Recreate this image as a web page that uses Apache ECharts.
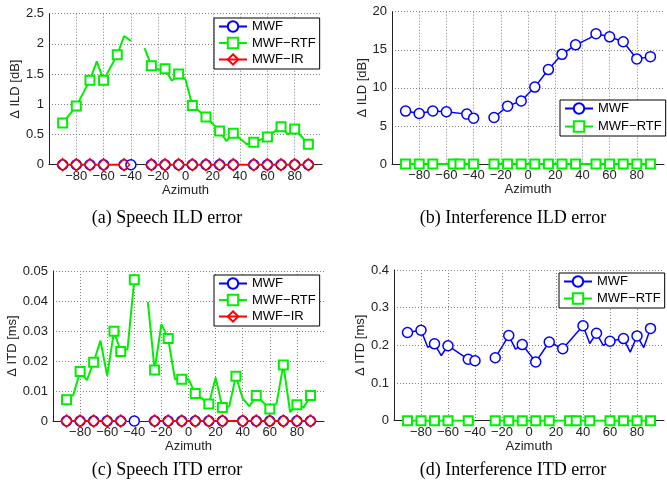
<!DOCTYPE html>
<html>
<head>
<meta charset="utf-8">
<script src="https://cdn.jsdelivr.net/npm/echarts@6/dist/echarts.min.js"></script>
<style>
  html, body { margin: 0; padding: 0; background: #fff; }
  #chart { width: 667px; height: 487px; }
</style>
</head>
<body>
<div id="chart"></div>
<script>
// Azimuth range (degrees) shared by every panel
const azMin = -100;
const azMax = 100;
const azStep = 20;

// Legend / series names
const nameMwf = 'MWF';
const nameRtf = 'MWF\u2212RTF';
const nameIr = 'MWF\u2212IR';

// (a) Speech ILD error [dB]; null marks a break in the curve
const ildSpeechRtfAz  = [-90, -80, -70, -65, -60, -50, -45, -40, null, -30, -25, -20, -15, -10, -5, 0, 5, 15, 25, 30, 35, 45, 50, 60, 70, 75, 80, 90];
const ildSpeechRtfVal = [0.69, 0.97, 1.40, 1.71, 1.40, 1.82, 2.13, 2.05, null, 1.93, 1.64, 1.57, 1.59, 1.39, 1.50, 1.41, 0.98, 0.79, 0.56, 0.39, 0.52, 0.34, 0.37, 0.46, 0.63, 0.50, 0.59, 0.34];
const ildSpeechRtfMarks = [-90, -80, -70, -60, -50, -25, -15, -5, 5, 15, 25, 35, 50, 60, 70, 80, 90];
const ildSpeechMwfAz  = [-90, -80, -70, -60, -45, null, -40, null, -25, -15, -5, 5, 15, 25, 35, 50, 60, 70, 80, 90];
const ildSpeechMwfVal = [0, 0, 0, 0, 0, null, 0, null, 0, 0, 0, 0, 0, 0, 0, 0, 0, 0, 0, 0];
const ildSpeechIrAz   = [-90, -80, -70, -60, -45, null, -25, -15, -5, 5, 15, 25, 35, 50, 60, 70, 80, 90];
const ildSpeechIrVal  = [0, 0, 0, 0, 0, null, 0, 0, 0, 0, 0, 0, 0, 0, 0, 0, 0, 0];

// (b) Interference ILD error [dB]
const ildNoiseMwfAz  = [-90, -80, -70, -60, -45, -40, null, -25, -15, -5, 5, 15, 25, 35, 45, 50, 60, 70, 80, 90];
const ildNoiseMwfVal = [6.95, 6.63, 6.96, 6.86, 6.55, 6.02, null, 6.10, 7.60, 8.28, 10.1, 12.4, 14.4, 15.65, 16.5, 17.1, 16.7, 16.05, 13.8, 14.1];
const ildNoiseMwfMarks = [-90, -80, -70, -60, -45, -40, -25, -15, -5, 5, 15, 25, 35, 50, 60, 70, 80, 90];
const ildNoiseRtfAz  = [-90, -80, -70, -55, -50, -40, null, -25, -15, -5, 5, 15, 25, 35, 50, 60, 70, 80, 90];
const ildNoiseRtfVal = [0, 0, 0, 0, 0, 0, null, 0, 0, 0, 0, 0, 0, 0, 0, 0, 0, 0, 0];

// (c) Speech ITD error [ms]
const itdSpeechRtfAz  = [-90, -85, -80, -75, -70, -65, -60, -55, -50, -45, -40, null, -30, -25, -20, -15, -10, -5, 0, 5, 15, 20, 25, 30, 35, 40, 45, 50, 60, 65, 70, 75, 80, 85, 90];
const itdSpeechRtfVal = [0.0071, 0.0087, 0.0165, 0.0136, 0.0196, 0.0268, 0.0151, 0.0299, 0.0232, 0.0240, 0.0471, null, 0.0397, 0.0170, 0.0323, 0.0275, 0.0139, 0.0139, 0.0139, 0.0092, 0.0057, 0.0145, 0.0045, 0.0048, 0.0149, 0.0075, 0.0049, 0.0085, 0.0040, 0.0059, 0.0187, 0.0030, 0.0054, 0.0045, 0.0085];
const itdSpeechRtfMarks = [-90, -80, -70, -55, -50, -40, -25, -15, -5, 5, 15, 25, 35, 50, 60, 70, 80, 90];
const itdSpeechMwfAz  = [-90, -80, -70, -60, -50, null, -40, null, -25, -15, -5, 5, 15, 25, 40, 50, 60, 70, 80, 90];
const itdSpeechMwfVal = [0, 0, 0, 0, 0, null, 0, null, 0, 0, 0, 0, 0, 0, 0, 0, 0, 0, 0, 0];
const itdSpeechIrAz   = [-90, -80, -70, -60, -50, null, -25, -15, -5, 5, 15, 25, 40, 50, 60, 70, 80, 90];
const itdSpeechIrVal  = [0, 0, 0, 0, 0, null, 0, 0, 0, 0, 0, 0, 0, 0, 0, 0, 0, 0];

// (d) Interference ITD error [ms]
const itdNoiseMwfAz  = [-90, -80, -75, -70, -65, -60, -45, -40, null, -25, -15, -10, -5, 5, 15, 25, 40, 45, 50, 55, 60, 70, 75, 80, 85, 90];
const itdNoiseMwfVal = [0.234, 0.240, 0.195, 0.204, 0.173, 0.199, 0.163, 0.159, null, 0.167, 0.226, 0.190, 0.202, 0.156, 0.209, 0.191, 0.252, 0.205, 0.232, 0.200, 0.211, 0.218, 0.182, 0.225, 0.194, 0.245];
const itdNoiseMwfMarks = [-90, -80, -70, -60, -45, -40, -25, -15, -5, 5, 15, 25, 40, 50, 60, 70, 80, 90];
const itdNoiseRtfAz  = [-90, -80, -70, -60, -45, -40, null, -25, -15, -5, 5, 15, 30, 35, 45, 60, 70, 80, 90];
const itdNoiseRtfVal = [0, 0, 0, 0, 0, 0, null, 0, 0, 0, 0, 0, 0, 0, 0, 0, 0, 0, 0];
const itdNoiseRtfMarks = [-90, -80, -70, -60, -45, -25, -15, -5, 5, 15, 30, 35, 45, 60, 70, 80, 90];

// Y-axis ranges per panel
const yMax = [2.5, 20, 0.05, 0.4];
const yStep = [0.5, 5, 0.01, 0.1];
const yNames = ['\u0394 ILD [dB]', '\u0394 ILD [dB]', '\u0394 ITD [ms]', '\u0394 ITD [ms]'];
const captions = ['(a) Speech ILD error', '(b) Interference ILD error', '(c) Speech ITD error', '(d) Interference ITD error'];

const sans = 'Liberation Sans, Arial, Helvetica, sans-serif';
const serif = 'Liberation Serif, Times New Roman, serif';

const styles = {};
styles[nameMwf] = { color: '#0000ff', symbol: 'circle', size: 10, lw: 1.5, bw: 1.5, fill: '#ffffff' };
styles[nameRtf] = { color: '#00ee00', symbol: 'rect', size: 9, lw: 2, bw: 2, fill: '#ffffff' };
styles[nameIr]  = { color: '#ff0000', symbol: 'diamond', size: [11, 12], lw: 2, bw: 1.5, fill: 'transparent' };

function curve(name, panel, az, val, marks) {
  const st = styles[name];
  const showAt = marks || az;
  const data = az.map((a, i) => a === null
    ? ['-', '-']
    : { value: [a, val[i]], symbol: showAt.includes(a) ? st.symbol : 'none' });
  return {
    name: name,
    type: 'line',
    xAxisIndex: panel,
    yAxisIndex: panel,
    data: data,
    symbol: st.symbol,
    symbolSize: st.size,
    showSymbol: true,
    connectNulls: false,
    lineStyle: { color: st.color, width: st.lw },
    itemStyle: { color: st.fill, borderColor: st.color, borderWidth: st.bw },
    emphasis: { disabled: true },
    animation: false
  };
}

// Plot rectangles
const grids = [
  { left: 49, top: 13.7, width: 273, height: 151 },
  { left: 392, top: 11.7, width: 274, height: 152.3 },
  { left: 53, top: 271, width: 271, height: 150 },
  { left: 394, top: 270, width: 277, height: 150.7 }
];
const yNameGaps = [27, 23, 30, 25];

const dotted = { color: '#808080', width: 1, type: [1, 2] };

const xAxes = grids.map((g, i) => ({
  type: 'value', gridIndex: i, min: azMin, max: azMax, interval: azStep,
  name: 'Azimuth', nameLocation: 'middle', nameGap: 19,
  nameTextStyle: { fontFamily: sans, fontSize: 13, color: '#222' },
  axisLine: { show: true, onZero: false, lineStyle: { color: '#222', width: 1 } },
  axisTick: { show: false },
  axisLabel: {
    fontFamily: sans, fontSize: 13, color: '#222', margin: 5,
    formatter: v => Math.abs(v) === 100 ? '' : String(v).replace('-', '\u2212')
  },
  splitLine: { show: true, showMinLine: false, showMaxLine: false, lineStyle: dotted }
}));

const yAxes = grids.map((g, i) => ({
  type: 'value', gridIndex: i, min: 0, max: yMax[i], interval: yStep[i],
  name: yNames[i], nameLocation: 'middle', nameGap: yNameGaps[i],
  nameTextStyle: { fontFamily: sans, fontSize: 13, color: '#222' },
  axisLine: { show: true, onZero: false, lineStyle: { color: '#222', width: 1 } },
  axisTick: { show: false },
  axisLabel: { fontFamily: sans, fontSize: 13, color: '#222', margin: 5 },
  splitLine: { show: true, showMinLine: false, showMaxLine: true, lineStyle: dotted }
}));

function legendBox(left, top, names, gap) {
  return {
    left: left, top: top, orient: 'vertical',
    data: names,
    itemWidth: 28, itemHeight: 13, itemGap: gap,
    padding: [2, 4, 3, 4],
    borderColor: '#000', borderWidth: 1, backgroundColor: '#fff',
    textStyle: { fontFamily: sans, fontSize: 13, color: '#000' },
    selectedMode: false
  };
}

const series = [
  curve(nameMwf, 0, ildSpeechMwfAz, ildSpeechMwfVal),
  curve(nameRtf, 0, ildSpeechRtfAz, ildSpeechRtfVal, ildSpeechRtfMarks),
  curve(nameIr, 0, ildSpeechIrAz, ildSpeechIrVal),

  curve(nameMwf, 1, ildNoiseMwfAz, ildNoiseMwfVal, ildNoiseMwfMarks),
  curve(nameRtf, 1, ildNoiseRtfAz, ildNoiseRtfVal),

  curve(nameMwf, 2, itdSpeechMwfAz, itdSpeechMwfVal),
  curve(nameRtf, 2, itdSpeechRtfAz, itdSpeechRtfVal, itdSpeechRtfMarks),
  curve(nameIr, 2, itdSpeechIrAz, itdSpeechIrVal),

  curve(nameMwf, 3, itdNoiseMwfAz, itdNoiseMwfVal, itdNoiseMwfMarks),
  curve(nameRtf, 3, itdNoiseRtfAz, itdNoiseRtfVal, itdNoiseRtfMarks)
];

const captionPos = [[167, 218], [513, 218], [167, 470], [513, 470]];

const chart = echarts.init(document.getElementById('chart'), null, { renderer: 'canvas' });
chart.setOption({
  backgroundColor: '#ffffff',
  animation: false,
  grid: grids,
  xAxis: xAxes,
  yAxis: yAxes,
  legend: [
    legendBox(214, 18, [nameMwf, nameRtf, nameIr], 3.5),
    legendBox(560, 100, [nameMwf, nameRtf], 5),
    legendBox(214, 275, [nameMwf, nameRtf, nameIr], 3.5),
    legendBox(559, 273, [nameMwf, nameRtf], 4)
  ],
  graphic: captions.map((t, i) => ({
    type: 'text', x: captionPos[i][0], y: captionPos[i][1],
    style: { text: t, font: '18px ' + serif, fill: '#000', textAlign: 'center', textVerticalAlign: 'middle' }
  })),
  series: series
});
</script>
</body>
</html>
